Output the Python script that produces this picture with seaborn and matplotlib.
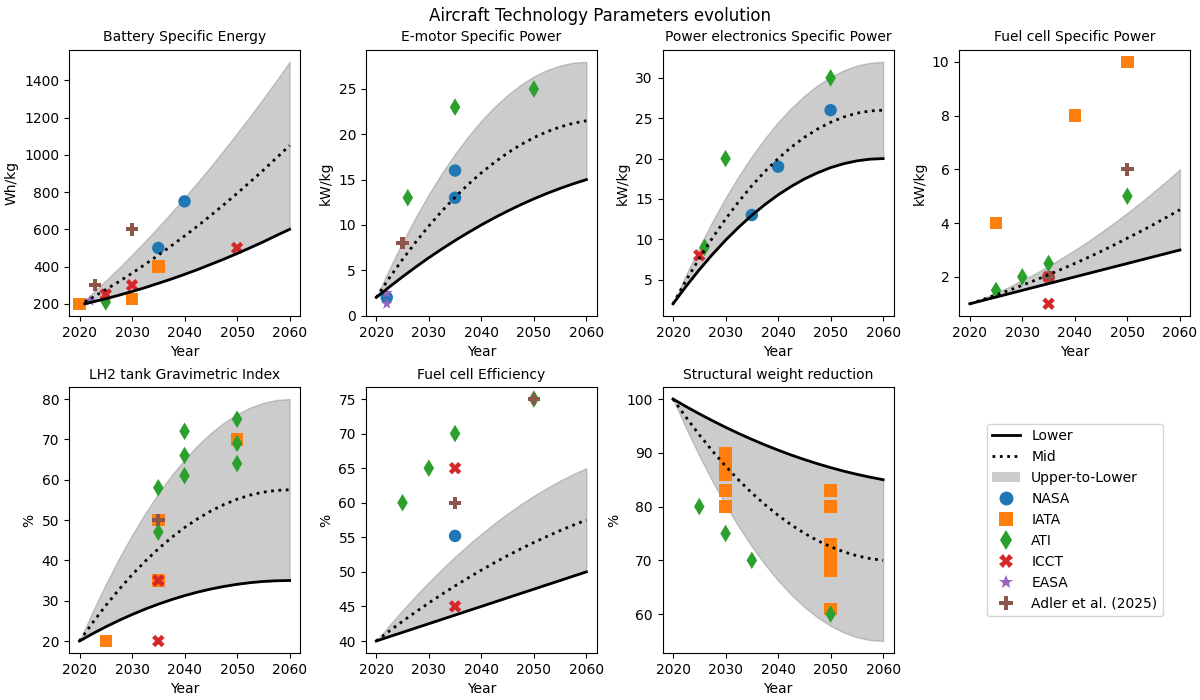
import numpy as np
import pandas as pd
import matplotlib
matplotlib.use('Agg')
import matplotlib.pyplot as plt
import seaborn as sns
from matplotlib.lines import Line2D
from matplotlib.patches import Patch

# Projection curves (every 2.5 years)
years = [2020, 2022.5, 2025, 2027.5, 2030, 2032.5, 2035, 2037.5, 2040,
         2042.5, 2045, 2047.5, 2050, 2052.5, 2055, 2057.5, 2060]
batteryYears = [2021, 2022.5, 2025, 2027.5, 2030, 2032.5, 2035, 2037.5, 2040,
                2042.5, 2045, 2047.5, 2050, 2052.5, 2055, 2057.5, 2060]

batteryLower = [200, 210, 227, 246, 266, 287, 310, 333, 358, 384, 412, 440, 470, 501, 533, 567, 600]
batteryMid = [210, 234, 276, 319, 364, 412, 461, 512, 564, 618, 675, 733, 793, 855, 918, 984, 1050]
batteryUpper = [220, 258, 324, 392, 463, 536, 612, 690, 770, 853, 938, 1026, 1116, 1208, 1303, 1400, 1500]

emotorLower = [2, 3.16, 4.28, 5.35, 6.38, 7.35, 8.28, 9.16, 10, 10.79, 11.53, 12.23, 12.88, 13.48, 14.03, 14.54, 15]
emotorMid = [2, 4.16, 6.19, 8.1, 9.88, 11.53, 13.06, 14.47, 15.75, 16.9, 17.94, 18.85, 19.63, 20.29, 20.81, 21.22, 21.5]
emotorUpper = [2, 5.15, 8.09, 10.84, 13.38, 15.71, 17.84, 19.77, 21.5, 23.02, 24.34, 25.46, 26.38, 27.09, 27.59, 27.9, 28]

pelecLower = [2, 4.18, 6.22, 8.12, 9.88, 11.49, 12.97, 14.3, 15.5, 16.55, 17.47, 18.24, 18.88, 19.37, 19.72, 19.93, 20]
pelecMid = [2, 4.91, 7.63, 10.16, 12.5, 14.66, 16.63, 18.41, 20, 21.41, 22.63, 23.66, 24.5, 25.16, 25.63, 25.91, 26]
pelecUpper = [2, 5.63, 9.03, 12.19, 15.13, 17.82, 20.28, 22.51, 24.5, 26.26, 27.78, 29.07, 30.13, 30.94, 31.53, 31.88, 32]

fcPowerLower = [1, 1.125, 1.25, 1.375, 1.5, 1.625, 1.75, 1.875, 2, 2.125, 2.25, 2.375, 2.5, 2.625, 2.75, 2.875, 3]
fcPowerMid = [1, 1.16, 1.33, 1.5, 1.69, 1.88, 2.08, 2.29, 2.5, 2.72, 2.95, 3.19, 3.44, 3.69, 3.95, 4.22, 4.5]
fcPowerUpper = [1, 1.2, 1.41, 1.63, 1.88, 2.13, 2.41, 2.7, 3, 3.32, 3.66, 4.01, 4.38, 4.76, 5.16, 5.57, 6]

lh2Lower = [20, 21.82, 23.52, 25.1, 26.56, 27.91, 29.14, 30.25, 31.25, 32.13, 32.89, 33.53, 34.06, 34.47, 34.77, 34.94, 35]
lh2Mid = [20, 24.54, 28.79, 32.74, 36.41, 39.77, 42.85, 45.63, 48.13, 50.32, 52.23, 53.84, 55.16, 56.18, 56.91, 57.35, 57.5]
lh2Upper = [20, 27.27, 34.06, 40.39, 46.25, 51.64, 56.56, 61.02, 65, 68.52, 71.56, 74.14, 76.25, 77.89, 79.06, 79.77, 80]

fcEffLower = [40, 40.63, 41.25, 41.88, 42.5, 43.13, 43.75, 44.38, 45, 45.63, 46.25, 46.88, 47.5, 48.13, 48.75, 49.38, 50]
fcEffMid = [40, 41.45, 42.85, 44.2, 45.5, 46.76, 47.97, 49.13, 50.25, 51.32, 52.35, 53.32, 54.25, 55.13, 55.97, 56.76, 57.5]
fcEffUpper = [40, 42.27, 44.44, 46.52, 48.5, 50.39, 52.19, 53.89, 55.5, 57.02, 58.44, 59.77, 61, 62.14, 63.19, 64.14, 65]

structLower = [100, 98.59, 97.25, 95.97, 94.75, 93.59, 92.5, 91.47, 90.5, 89.59, 88.75, 87.97, 87.25, 86.59, 86, 85.47, 85]
structMid = [100, 96.57, 93.35, 90.34, 87.53, 84.93, 82.54, 80.36, 78.38, 76.6, 75.04, 73.68, 72.53, 71.59, 70.85, 70.33, 70]
structUpper = [100, 94.55, 89.45, 84.71, 80.31, 76.27, 72.58, 69.24, 66.25, 63.61, 61.33, 59.39, 57.81, 56.58, 55.7, 55.18, 55]

# Literature data points: (source, year, value)
batteryPoints = [
    ('NASA', 2035, 500), ('NASA', 2040, 750),
    ('IATA', 2020, 200), ('IATA', 2030, 225), ('IATA', 2035, 400),
    ('ATI', 2025, 210),
    ('ICCT', 2025, 250), ('ICCT', 2030, 300), ('ICCT', 2050, 500),
    ('EASA', 2022, 215),
    ('Adler et al. (2025)', 2023, 300), ('Adler et al. (2025)', 2030, 600),
]
emotorPoints = [
    ('NASA', 2022, 2), ('NASA', 2035, 13), ('NASA', 2035, 16),
    ('ATI', 2026, 13), ('ATI', 2035, 23), ('ATI', 2050, 25),
    ('EASA', 2022, 2.5), ('EASA', 2022, 1.3),
    ('Adler et al. (2025)', 2025, 8),
]
pelecPoints = [
    ('NASA', 2035, 13), ('NASA', 2040, 19), ('NASA', 2050, 26),
    ('ATI', 2026, 9), ('ATI', 2030, 20), ('ATI', 2050, 30),
    ('ICCT', 2025, 8),
]
fcPowerPoints = [
    ('IATA', 2025, 4), ('IATA', 2040, 8), ('IATA', 2050, 10),
    ('ATI', 2025, 1.5), ('ATI', 2030, 2), ('ATI', 2035, 2.5), ('ATI', 2050, 5),
    ('ICCT', 2035, 1), ('ICCT', 2035, 2),
    ('Adler et al. (2025)', 2035, 2), ('Adler et al. (2025)', 2050, 6),
]
lh2Points = [
    ('IATA', 2025, 20), ('IATA', 2035, 35), ('IATA', 2035, 50), ('IATA', 2050, 70),
    ('ATI', 2035, 47), ('ATI', 2035, 58), ('ATI', 2040, 61), ('ATI', 2040, 66),
    ('ATI', 2040, 72), ('ATI', 2050, 64), ('ATI', 2050, 69), ('ATI', 2050, 75),
    ('ICCT', 2035, 20), ('ICCT', 2035, 35),
    ('Adler et al. (2025)', 2035, 50),
]
fcEffPoints = [
    ('NASA', 2035, 55.2),
    ('ATI', 2025, 60), ('ATI', 2030, 65), ('ATI', 2035, 70), ('ATI', 2050, 75),
    ('ICCT', 2035, 45), ('ICCT', 2035, 65),
    ('Adler et al. (2025)', 2035, 60), ('Adler et al. (2025)', 2050, 75),
]
structPoints = [
    ('IATA', 2030, 80), ('IATA', 2030, 83), ('IATA', 2030, 86), ('IATA', 2030, 87),
    ('IATA', 2030, 88), ('IATA', 2030, 89), ('IATA', 2030, 90),
    ('IATA', 2050, 61), ('IATA', 2050, 68), ('IATA', 2050, 69), ('IATA', 2050, 70),
    ('IATA', 2050, 71), ('IATA', 2050, 72), ('IATA', 2050, 73),
    ('IATA', 2050, 80), ('IATA', 2050, 83),
    ('ATI', 2025, 80), ('ATI', 2030, 75), ('ATI', 2035, 70), ('ATI', 2050, 60),
]

sources = ['NASA', 'IATA', 'ATI', 'ICCT', 'EASA', 'Adler et al. (2025)']
sourceMarkers = dict(zip(sources, ['o', 's', 'd', 'X', '*', 'P']))
sourceColors = dict(zip(sources, sns.color_palette('tab10', 6)))

panels = [
    ('Battery Specific Energy', 'Wh/kg', batteryYears, batteryLower, batteryMid, batteryUpper, batteryPoints),
    ('E-motor Specific Power', 'kW/kg', years, emotorLower, emotorMid, emotorUpper, emotorPoints),
    ('Power electronics Specific Power', 'kW/kg', years, pelecLower, pelecMid, pelecUpper, pelecPoints),
    ('Fuel cell Specific Power', 'kW/kg', years, fcPowerLower, fcPowerMid, fcPowerUpper, fcPowerPoints),
    ('LH2 tank Gravimetric Index', '%', years, lh2Lower, lh2Mid, lh2Upper, lh2Points),
    ('Fuel cell Efficiency', '%', years, fcEffLower, fcEffMid, fcEffUpper, fcEffPoints),
    ('Structural weight reduction', '%', years, structLower, structMid, structUpper, structPoints),
]

fig, axes = plt.subplots(2, 4, figsize=(12, 7), dpi=100)
axList = axes.flatten()

for ax, (title, unit, xs, lower, mid, upper, points) in zip(axList, panels):
    curveDf = pd.DataFrame({'Year': xs, 'Lower': lower, 'Mid': mid, 'Upper': upper})
    ax.fill_between(curveDf['Year'], curveDf['Lower'], curveDf['Upper'], color='gray', alpha=0.4)
    sns.lineplot(data=curveDf, x='Year', y='Lower', color='black', linewidth=2, ax=ax)
    sns.lineplot(data=curveDf, x='Year', y='Mid', color='black', linewidth=2, linestyle=':', ax=ax)

    pointDf = pd.DataFrame(points, columns=['Source', 'Year', 'Value'])
    sns.scatterplot(data=pointDf, x='Year', y='Value', hue='Source', style='Source',
                    markers=sourceMarkers, palette=sourceColors, s=80, linewidth=0,
                    legend=False, ax=ax)

    ax.set_title(title, fontsize=10)
    ax.set_xlabel('Year')
    ax.set_ylabel(unit)
    ax.set_xticks([2020, 2030, 2040, 2050, 2060])

# Last slot holds the legend only
legendAx = axList[7]
legendAx.axis('off')
handles = [
    Line2D([0], [0], color='black', linewidth=2, label='Lower'),
    Line2D([0], [0], color='black', linewidth=2, linestyle=':', label='Mid'),
    Patch(facecolor='gray', alpha=0.4, label='Upper-to-Lower'),
]
for src in sources:
    handles.append(Line2D([0], [0], linestyle='', marker=sourceMarkers[src], color=sourceColors[src],
                          markeredgewidth=0, markersize=10, label=src))
legendAx.legend(handles=handles, loc='center', fontsize=10)

fig.suptitle('Aircraft Technology Parameters evolution', fontsize=12, y=0.99)
fig.subplots_adjust(left=0.0575, right=0.992, top=0.929, bottom=0.067, wspace=0.284, hspace=0.267)
plt.savefig('out.png', dpi=100)
